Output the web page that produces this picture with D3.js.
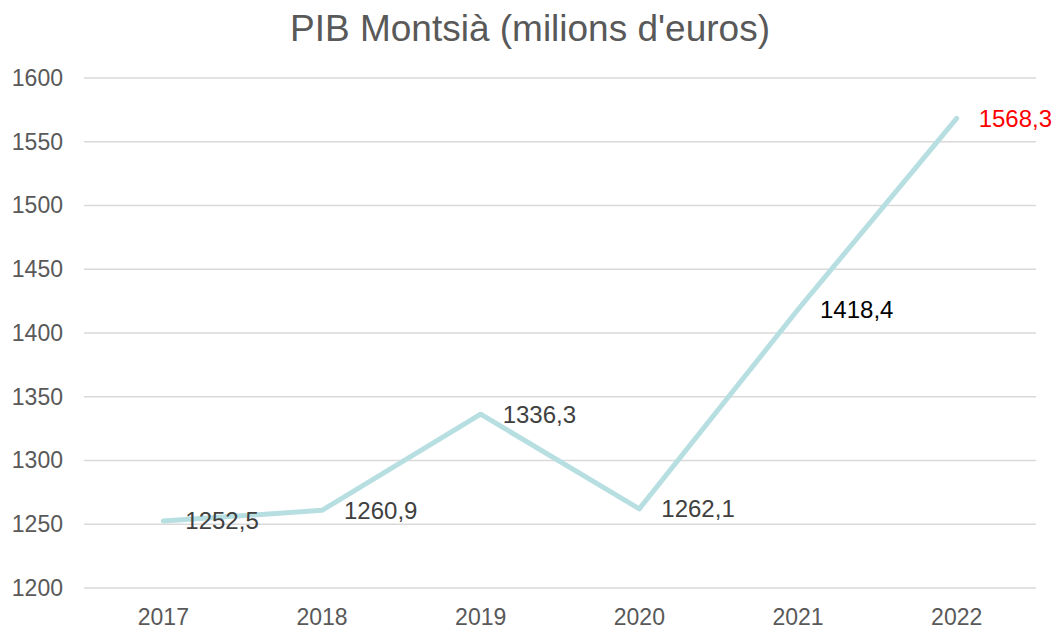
<!DOCTYPE html>
<html>
<head>
<meta charset="utf-8">
<script src="https://cdn.jsdelivr.net/npm/d3@7"></script>
<style>
  body { margin: 0; background: #fff; }
  svg { font-family: "Liberation Sans", Arial, sans-serif; }
</style>
</head>
<body>
<div id="chart"></div>
<script>
const years = ["2017", "2018", "2019", "2020", "2021", "2022"];
const pib = [1252.5, 1260.9, 1336.3, 1262.1, 1418.4, 1568.3];
const labelColors = ["#404040", "#404040", "#404040", "#404040", "#000000", "#ff0000"];
const yTicks = [1200, 1250, 1300, 1350, 1400, 1450, 1500, 1550, 1600];

const WIDTH = 1052;
const HEIGHT = 630;
const margin = { top: 78, right: 16, bottom: 42, left: 84 };

const svg = d3.select("#chart").append("svg")
  .attr("width", WIDTH)
  .attr("height", HEIGHT);

const x = d3.scaleBand()
  .domain(years)
  .range([margin.left, WIDTH - margin.right]);

const y = d3.scaleLinear()
  .domain([1200, 1600])
  .range([HEIGHT - margin.bottom, margin.top]);

const fmt = v => d3.format(".1f")(v).replace(".", ",");

// title
svg.append("text")
  .attr("x", 530)
  .attr("y", 41)
  .attr("text-anchor", "middle")
  .attr("font-size", 37)
  .attr("fill", "#595959")
  .text("PIB Montsià (milions d'euros)");

// gridlines
svg.append("g")
  .selectAll("line")
  .data(yTicks)
  .join("line")
  .attr("x1", margin.left)
  .attr("x2", WIDTH - margin.right)
  .attr("y1", d => y(d))
  .attr("y2", d => y(d))
  .attr("stroke", "#d9d9d9")
  .attr("stroke-width", 1.3);

// y axis labels
svg.append("g")
  .attr("transform", `translate(${margin.left - 21},0)`)
  .call(d3.axisLeft(y).tickValues(yTicks).tickFormat(d3.format("d")).tickSize(0).tickPadding(0))
  .call(g => g.select(".domain").remove())
  .call(g => g.selectAll("text")
    .attr("font-size", 23)
    .attr("font-family", "Liberation Sans, Arial, sans-serif")
    .attr("fill", "#595959"));

// x axis labels
svg.append("g")
  .attr("transform", `translate(0,${HEIGHT - margin.bottom})`)
  .call(d3.axisBottom(x).tickSize(0).tickPadding(21))
  .call(g => g.select(".domain").remove())
  .call(g => g.selectAll("text")
    .attr("font-size", 23)
    .attr("font-family", "Liberation Sans, Arial, sans-serif")
    .attr("fill", "#595959"));

// line
const line = d3.line()
  .x((d, i) => x(years[i]) + x.bandwidth() / 2)
  .y(d => y(d));

svg.append("path")
  .datum(pib)
  .attr("d", line)
  .attr("fill", "none")
  .attr("stroke", "#b7dfe2")
  .attr("stroke-width", 5)
  .attr("stroke-linecap", "round")
  .attr("stroke-linejoin", "round");

// data labels
svg.append("g")
  .selectAll("text")
  .data(pib)
  .join("text")
  .attr("x", (d, i) => x(years[i]) + x.bandwidth() / 2 + 22)
  .attr("y", d => y(d))
  .attr("dy", "0.35em")
  .attr("font-size", 24)
  .attr("fill", (d, i) => labelColors[i])
  .text(d => fmt(d));
</script>
</body>
</html>
